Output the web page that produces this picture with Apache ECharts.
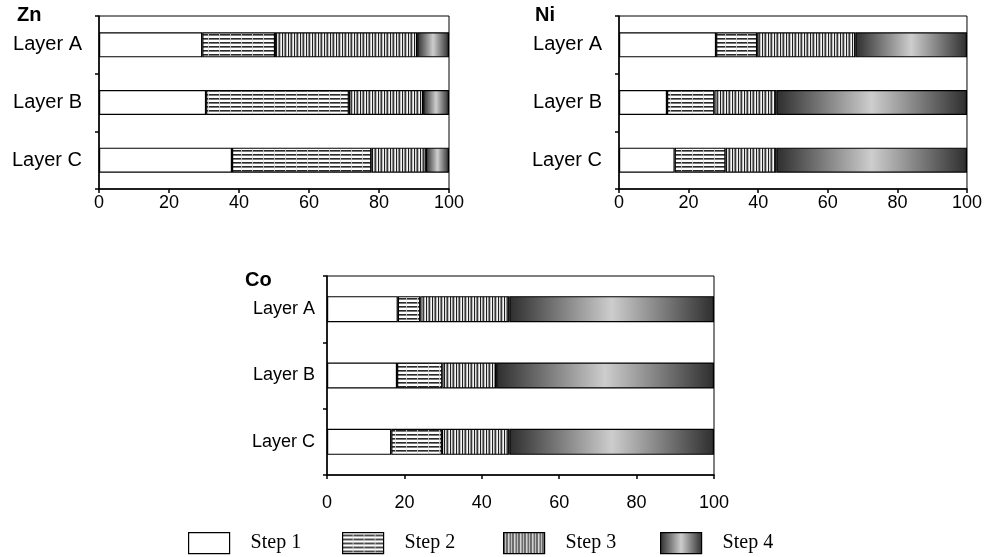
<!DOCTYPE html>
<html>
<head>
<meta charset="utf-8">
<script src="https://cdn.jsdelivr.net/npm/echarts@6/dist/echarts.min.js"></script>
<style>
html,body{margin:0;padding:0;background:#fff;}
#chart{width:985px;height:557px;}
</style>
</head>
<body>
<div id="chart"></div>
<script>
// ---- data ----
const categories = ['Layer A', 'Layer B', 'Layer C'];
const stepNames = ['Step 1', 'Step 2', 'Step 3', 'Step 4'];
const xTicks = [0, 20, 40, 60, 80, 100];

const znStep1 = [29.5, 30.6, 38.0];
const znStep2 = [20.8, 40.8, 39.8];
const znStep3 = [40.6, 21.2, 15.6];
const znStep4 = [9.1, 7.4, 6.6];

const niStep1 = [27.9, 13.8, 16.0];
const niStep2 = [11.8, 13.6, 14.6];
const niStep3 = [28.2, 17.8, 14.6];
const niStep4 = [32.1, 54.8, 54.8];

const coStep1 = [18.3, 18.1, 16.6];
const coStep2 = [5.8, 11.7, 13.1];
const coStep3 = [23.0, 13.9, 17.4];
const coStep4 = [52.9, 56.3, 52.9];

const panelTitles = ['Zn', 'Ni', 'Co'];

// ---- patterns ----
function makeCanvas(w, h, draw) {
  const c = document.createElement('canvas');
  c.width = w; c.height = h;
  const ctx = c.getContext('2d');
  draw(ctx);
  return c;
}
const hPattern = makeCanvas(11, 4, ctx => {
  ctx.fillStyle = '#ffffff'; ctx.fillRect(0, 0, 11, 4);
  ctx.fillStyle = '#2a2a2a'; ctx.fillRect(0, 2, 11, 1);
  ctx.fillStyle = '#7a7a7a'; ctx.fillRect(0, 3, 11, 1);
  ctx.fillStyle = '#bbbbbb'; ctx.fillRect(10, 2, 1, 2);
  ctx.fillStyle = '#e6e6e6'; ctx.fillRect(10, 0, 1, 2);
});
const vPattern = makeCanvas(6, 4, ctx => {
  const cols = ['#1e1e1e', '#e2e2e2', '#8a8a8a', '#3a3a3a', '#bcbcbc', '#f6f6f6'];
  cols.forEach((c, i) => { ctx.fillStyle = c; ctx.fillRect(i, 0, 1, 4); });
});

const stepColors = [
  '#ffffff',
  { image: hPattern, repeat: 'repeat' },
  { image: vPattern, repeat: 'repeat' },
  { type: 'linear', x: 0, y: 0, x2: 1, y2: 0, colorStops: [
    { offset: 0, color: '#2e2e2e' },
    { offset: 0.5, color: '#cdcdcd' },
    { offset: 1, color: '#2e2e2e' }
  ] }
];

const panelData = [
  [znStep1, znStep2, znStep3, znStep4],
  [niStep1, niStep2, niStep3, niStep4],
  [coStep1, coStep2, coStep3, coStep4]
];

const grids = [
  { left: 99, top: 16, width: 350, height: 173 },
  { left: 619, top: 16, width: 350, height: 173 },
  { left: 327, top: 276, width: 387, height: 199 }
];
const barWidths = [25, 25, 26];
const xLabelMargins = [5, 5, 19];
const yLabelSizes = [20, 20, 18];
const yLabelMargins = [17, 17, 12];

const labelFont = 'Liberation Sans, Arial, sans-serif';

const xAxes = grids.map((g, i) => ({
  type: 'value', gridIndex: i, min: 0, max: 100, interval: 20,
  axisLine: { show: true, lineStyle: { color: '#000', width: 1.5 } },
  axisTick: { show: true, length: 4, lineStyle: { color: '#000', width: 1.5 } },
  axisLabel: { color: '#000', fontSize: 18, fontFamily: labelFont, margin: xLabelMargins[i] },
  splitLine: { show: false }
}));
const yAxes = grids.map((g, i) => ({
  type: 'category', gridIndex: i, data: categories, inverse: true,
  axisLine: { show: true, lineStyle: { color: '#000', width: 1.5 } },
  axisTick: { show: true, length: 4, lineStyle: { color: '#000', width: 1.5 } },
  axisLabel: { color: '#000', fontSize: yLabelSizes[i], fontFamily: labelFont, margin: yLabelMargins[i] }
}));

const series = [];
panelData.forEach((steps, p) => {
  steps.forEach((vals, s) => {
    series.push({
      type: 'bar', name: stepNames[s], stack: 'p' + p,
      xAxisIndex: p, yAxisIndex: p, data: vals,
      barWidth: barWidths[p],
      itemStyle: { color: stepColors[s], borderColor: '#000', borderWidth: 1.2 },
      emphasis: { disabled: true },
      animation: false
    });
  });
});

const legendLefts = [188, 342, 503, 660];
const legends = stepNames.map((n, i) => ({
  data: [n], left: legendLefts[i], top: 532, padding: 0,
  itemWidth: 41, itemHeight: 21, icon: 'rect',
  selectedMode: false,
  itemStyle: { borderColor: '#000', borderWidth: 1.2 },
  textStyle: { fontFamily: 'Liberation Serif, Times New Roman, serif', fontSize: 20, color: '#000', padding: [0, 0, 0, 16] }
}));

const titlePos = [{ left: 17, top: 5 }, { left: 535, top: 5 }, { left: 245, top: 270 }];
const titles = panelTitles.map((t, i) => ({
  text: t, left: titlePos[i].left, top: titlePos[i].top, padding: 0,
  textStyle: { fontFamily: labelFont, fontSize: 20, fontWeight: 'bold', color: '#000' }
}));

const chart = echarts.init(document.getElementById('chart'), null, { renderer: 'canvas' });
chart.setOption({
  animation: false,
  backgroundColor: '#fff',
  title: titles,
  legend: legends,
  grid: grids.map(g => Object.assign({ show: true, borderColor: '#000', borderWidth: 1, backgroundColor: 'transparent' }, g)),
  xAxis: xAxes,
  yAxis: yAxes,
  series: series
});
</script>
</body>
</html>
